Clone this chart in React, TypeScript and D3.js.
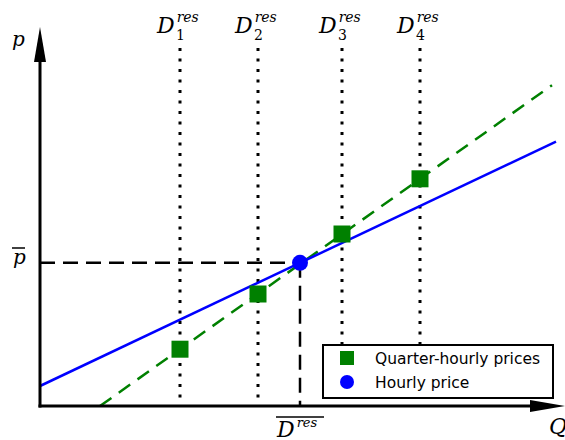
import React from "react";
import * as d3 from "d3";

// ---- data (units of quantity Q and price p) ----
const residualDemandLabels = ["1", "2", "3", "4"];
const residualDemandQ = [3.5, 5.45, 7.55, 9.5];
const quarterHourlyP = [1.42, 2.8, 4.3, 5.68];
const hourlyQ = 6.5;
const hourlyP = 3.58;
// line end points
const hourlyCurveQ = [0, 12.9];
const hourlyCurveP = [0.5, 6.61];
const quarterCurveQ = [1.5, 12.8];
const quarterCurveP = [0, 8.02];
const legendLabels = ["Quarter-hourly prices", "Hourly price"];

const W = 565;
const H = 440;
const x0 = 40;
const y0 = 406;

export default function App() {
  const x = d3.scaleLinear().domain([0, 1]).range([x0, x0 + 40]);
  const y = d3.scaleLinear().domain([0, 1]).range([y0, y0 - 40]);
  const line = d3
    .line<[number, number]>()
    .x((d) => x(d[0]))
    .y((d) => y(d[1]));

  const blue = line(hourlyCurveQ.map((q, i) => [q, hourlyCurveP[i]]) as [number, number][]);
  const green = line(quarterCurveQ.map((q, i) => [q, quarterCurveP[i]]) as [number, number][]);
  const sq = 17;
  const math = "'DejaVu Serif', 'Liberation Serif', serif";

  return (
    <svg
      width={W}
      height={H}
      viewBox={`0 0 ${W} ${H}`}
      style={{ position: "absolute", left: 0, top: 0, background: "#fff" }}
    >
      {/* vertical dotted residual demand lines */}
      {residualDemandQ.map((q, i) => (
        <line
          key={"v" + i}
          x1={x(q)}
          x2={x(q)}
          y1={48}
          y2={y0}
          stroke="#000"
          strokeWidth={3}
          strokeDasharray="3,7.5"
        />
      ))}
      {/* top labels */}
      {residualDemandQ.map((q, i) => (
        <text key={"l" + i} x={x(q) - 23} y={33} fontFamily={math} fontStyle="italic" fontSize={22}>
          D
          <tspan fontSize={14} dx={2} dy={-11}>res</tspan>
        </text>
      ))}
      {residualDemandQ.map((q, i) => (
        <text key={"s" + i} x={x(q) - 4} y={40} fontFamily={math} fontSize={14}>
          {residualDemandLabels[i]}
        </text>
      ))}

      {/* black dashed guide lines */}
      <line x1={x(0)} x2={x(hourlyQ)} y1={y(hourlyP)} y2={y(hourlyP)} stroke="#000" strokeWidth={2.5} strokeDasharray="15,8" />
      <line x1={x(hourlyQ)} x2={x(hourlyQ)} y1={y(hourlyP)} y2={y0} stroke="#000" strokeWidth={2.5} strokeDasharray="15,8" />

      {/* curves */}
      <path d={green ?? ""} fill="none" stroke="#008000" strokeWidth={2.5} strokeDasharray="14,9" />
      <path d={blue ?? ""} fill="none" stroke="#0000ff" strokeWidth={2.5} />

      {/* markers */}
      {residualDemandQ.map((q, i) => (
        <rect key={"m" + i} x={x(q) - sq / 2} y={y(quarterHourlyP[i]) - sq / 2} width={sq} height={sq} fill="#008000" />
      ))}
      <circle cx={x(hourlyQ)} cy={y(hourlyP)} r={8} fill="#0000ff" />

      {/* axes */}
      <line x1={x0} x2={x0} y1={y0 + 1.5} y2={55} stroke="#000" strokeWidth={3} />
      <path d={`M${x0},27 L${x0 - 6},62 L${x0 + 6},62 Z`} fill="#000" />
      <line x1={x0 - 1.5} x2={535} y1={y0} y2={y0} stroke="#000" strokeWidth={3} />
      <path d={`M565,${y0} L530,${y0 - 6} L530,${y0 + 6} Z`} fill="#000" />

      {/* axis labels */}
      <text x={12} y={46} fontFamily={math} fontStyle="italic" fontSize={20}>p</text>
      <text x={13} y={264} fontFamily={math} fontStyle="italic" fontSize={20}>p</text>
      <line x1={12} x2={25} y1={248} y2={248} stroke="#000" strokeWidth={1.5} />
      <text x={549} y={434} fontFamily={math} fontStyle="italic" fontSize={22}>Q</text>
      <text x={277} y={437} fontFamily={math} fontStyle="italic" fontSize={22}>
        D
        <tspan fontSize={13} dx={2} dy={-10}>res</tspan>
      </text>
      <line x1={276} x2={324} y1={417} y2={417} stroke="#000" strokeWidth={1.5} />

      {/* legend */}
      <rect x={323} y={345} width={230} height={53} fill="#fff" stroke="#000" strokeWidth={2} />
      <rect x={340} y={351} width={14} height={14} fill="#008000" />
      <circle cx={347} cy={382} r={7} fill="#0000ff" />
      <text x={375} y={364} fontFamily="'DejaVu Sans', sans-serif" fontSize={15.5}>{legendLabels[0]}</text>
      <text x={375} y={388} fontFamily="'DejaVu Sans', sans-serif" fontSize={15.5}>{legendLabels[1]}</text>
    </svg>
  );
}
